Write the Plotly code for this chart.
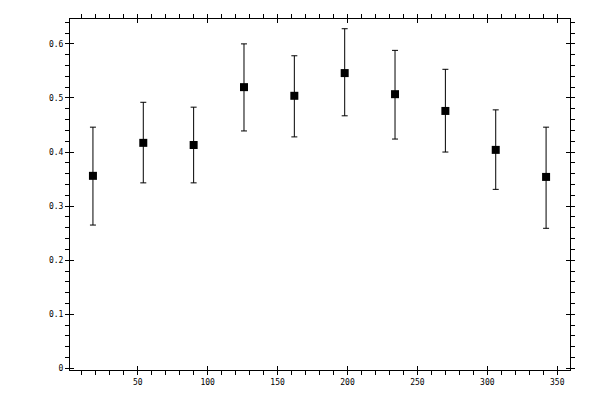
import plotly.graph_objects as go

# Data
x_values = [18, 54, 90, 126, 162, 198, 234, 270, 306, 342]
y_values = [0.356, 0.417, 0.413, 0.520, 0.504, 0.546, 0.507, 0.476, 0.404, 0.354]
y_upper = [0.446, 0.492, 0.483, 0.600, 0.578, 0.628, 0.588, 0.553, 0.478, 0.446]
y_lower = [0.265, 0.343, 0.343, 0.439, 0.428, 0.467, 0.424, 0.400, 0.331, 0.259]

x_ticks = [50, 100, 150, 200, 250, 300, 350]
y_ticks = [0, 0.1, 0.2, 0.3, 0.4, 0.5, 0.6]
y_tick_labels = ["0", "0.1", "0.2", "0.3", "0.4", "0.5", "0.6"]

err_plus = [u - v for u, v in zip(y_upper, y_values)]
err_minus = [v - l for v, l in zip(y_values, y_lower)]

XR = [1.6, 359.1]
YR = [-0.003, 0.646]
FONT = dict(family="DejaVu Sans Mono", size=8, color="black")

fig = go.Figure()
fig.add_trace(go.Scatter(
    x=x_values, y=y_values, mode="markers",
    marker=dict(symbol="square", size=8, color="black"),
    error_y=dict(type="data", symmetric=False, array=err_plus, arrayminus=err_minus,
                 color="black", thickness=1, width=3),
    showlegend=False, cliponaxis=False,
))
# empty trace to hold the overlay axes (inside major ticks)
fig.add_trace(go.Scatter(x=[], y=[], xaxis="x2", yaxis="y2", showlegend=False))

common_x = dict(range=XR, showgrid=False, zeroline=False, showline=True, linecolor="black",
                linewidth=1, mirror="ticks", tickvals=x_ticks, tickcolor="black", tickwidth=1,
                automargin=False)
common_y = dict(range=YR, showgrid=False, zeroline=False, showline=True, linecolor="black",
                linewidth=1, mirror="ticks", tickvals=y_ticks, tickcolor="black", tickwidth=1,
                automargin=False)

fig.update_layout(
    template="none",
    width=600, height=400,
    margin=dict(l=62, r=38, t=11, b=38, pad=0),
    paper_bgcolor="white", plot_bgcolor="white",
    font=FONT,
    xaxis=dict(**common_x, ticks="outside", ticklen=4, tickfont=FONT,
               ticktext=[str(t) for t in x_ticks],
               minor=dict(dtick=10, tick0=0, ticks="outside", ticklen=4, tickcolor="black",
                          tickwidth=1, showgrid=False)),
    yaxis=dict(**common_y, ticks="outside", ticklen=4, tickfont=FONT,
               ticktext=y_tick_labels,
               minor=dict(dtick=0.02, tick0=0, ticks="outside", ticklen=4, tickcolor="black",
                          tickwidth=1, showgrid=False)),
    xaxis2=dict(**common_x, overlaying="x", ticks="inside", ticklen=4, showticklabels=False),
    yaxis2=dict(**common_y, overlaying="y", ticks="inside", ticklen=4, showticklabels=False),
)

fig.write_html("out.html")
